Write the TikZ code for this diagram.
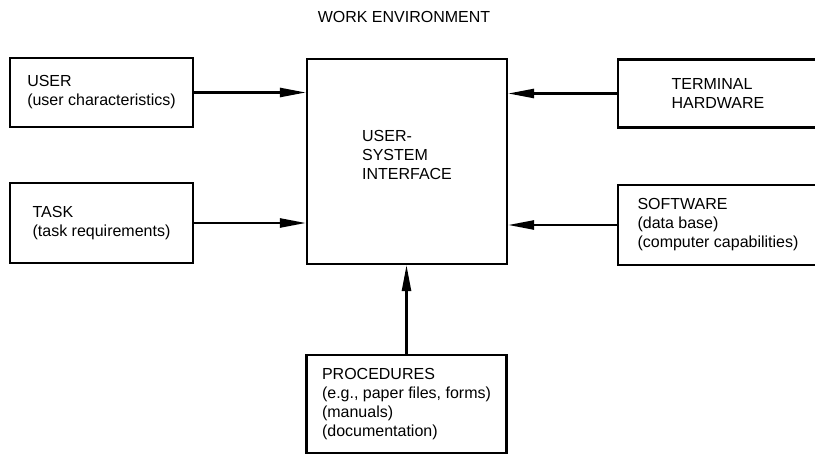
\documentclass[tikz,border=0pt]{standalone}
\usepackage{fontspec}
\setmainfont{Liberation Sans}
\usepackage{tikz}
\usetikzlibrary{arrows.meta, positioning, calc}

\tikzset{
  blockbox/.style={draw, line width=2.1pt, align=left, inner sep=2pt,
    font=\fontsize{16}{19}\selectfont},
  flowarrow/.style={line width=2.4pt, -{Triangle[length=26pt, width=9pt]}},
}

\begin{document}
\begin{tikzpicture}[x=1pt, y=-1pt]
  % page frame
  \useasboundingbox (0, 0) rectangle (815, 457);
  \clip (0, 0) rectangle (815, 457);

  \node[font=\fontsize{16}{19}\selectfont] (title) at (404, 17) {WORK ENVIRONMENT};

  % interface in the middle
  \node[blockbox, minimum width=200pt, minimum height=205pt] (usi) at (407, 161.5) {USER-\\SYSTEM\\INTERFACE\\[-6pt]};

  % inputs on the left
  \node[blockbox, minimum width=183pt, minimum height=69pt] (user) at (101.5, 92.5) {USER\\(user characteristics)};
  \node[blockbox, minimum width=183pt, minimum height=80pt] (task) at (101.5, 223) {TASK\\(task requirements)};

  % inputs on the right
  \node[blockbox, minimum width=200pt, minimum height=68pt] (term) at (718, 93.5) {TERMINAL\\HARDWARE};
  \node[blockbox, minimum width=200pt, minimum height=80pt] (soft) at (718, 225) {SOFTWARE\\(data base)\\(computer capabilities)};

  % input from below
  \node[blockbox, minimum width=200pt, minimum height=98pt] (proc) at (406.5, 404) {PROCEDURES\\(e.g., paper files, forms)\\(manuals)\\(documentation)};

  \draw[flowarrow] (user.east) -- (user.east -| usi.west);
  \draw[flowarrow] (task.east) -- (task.east -| usi.west);
  \draw[flowarrow] (term.west) -- (term.west -| usi.east);
  \draw[flowarrow] (soft.west) -- (soft.west -| usi.east);
  \draw[flowarrow] (proc.north) -- (proc.north |- usi.south);
\end{tikzpicture}
\end{document}
